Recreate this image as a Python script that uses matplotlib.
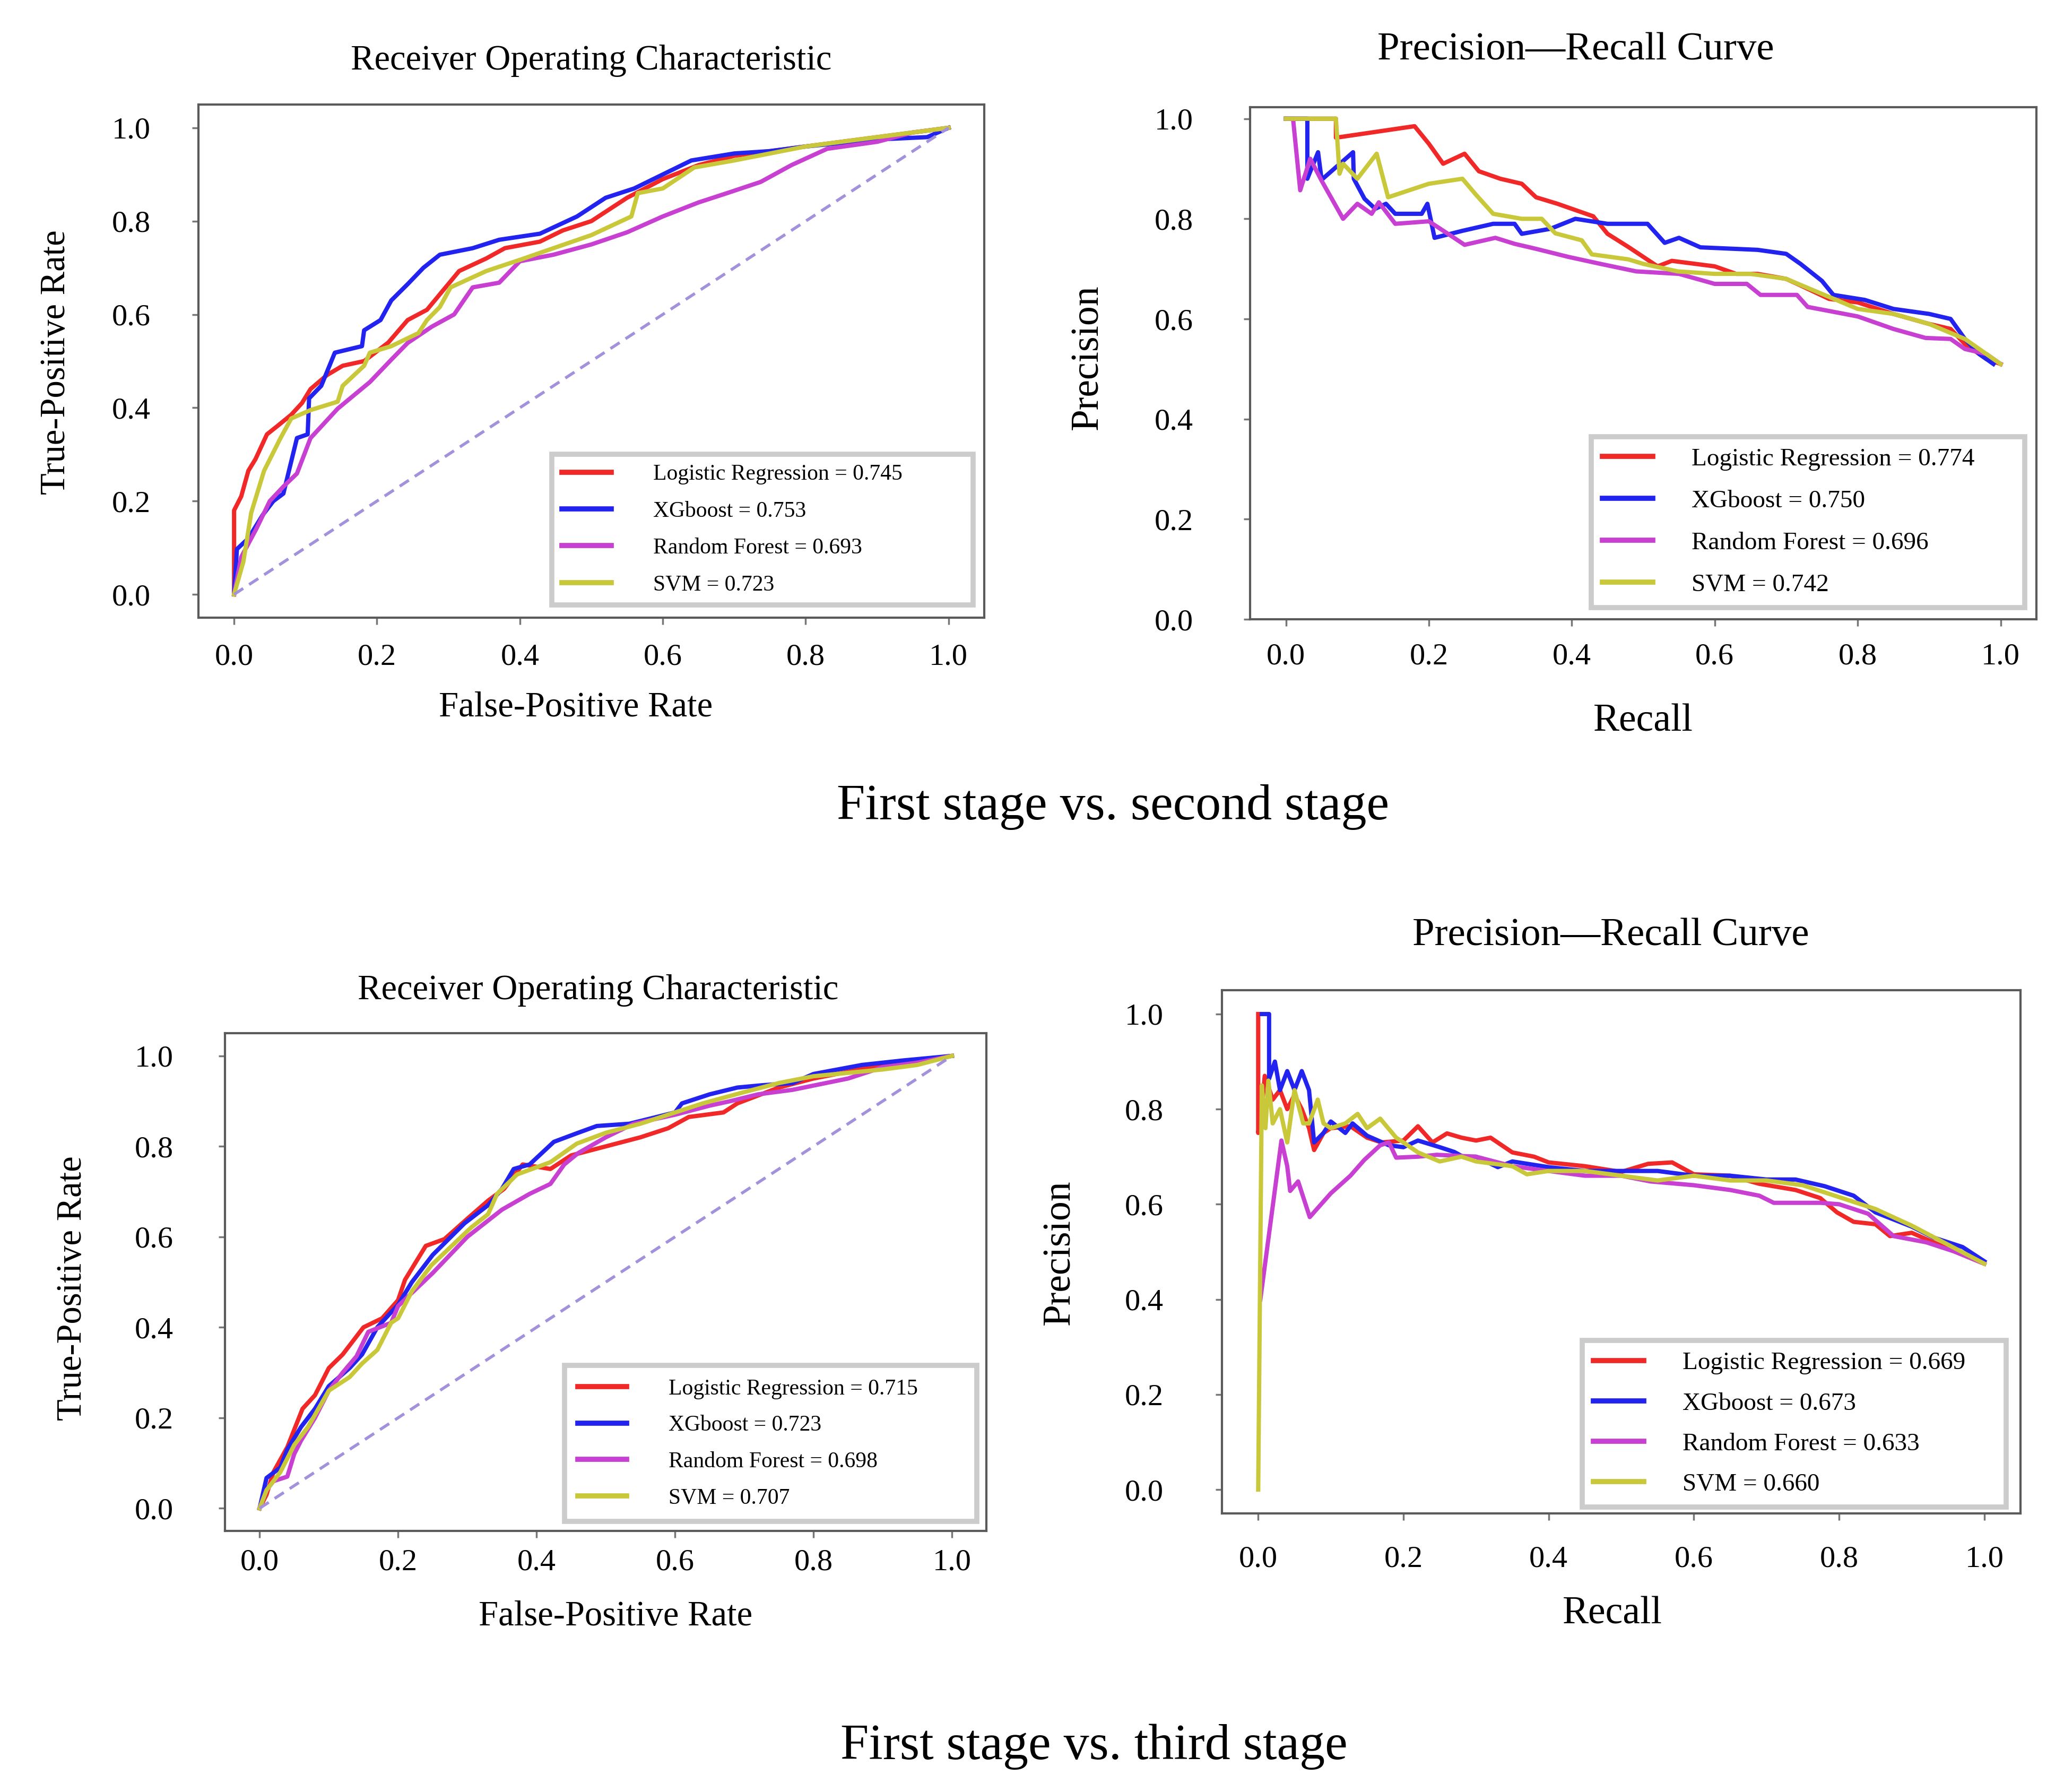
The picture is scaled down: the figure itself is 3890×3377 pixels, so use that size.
import matplotlib
matplotlib.use('Agg')
import matplotlib.pyplot as plt

plt.rcParams['font.family'] = ['Liberation Serif', 'DejaVu Serif']

# ---------------- data ----------------
tick_values = [0.0, 0.2, 0.4, 0.6, 0.8, 1.0]
tick_labels = ['0.0', '0.2', '0.4', '0.6', '0.8', '1.0']
model_names = ['Logistic Regression', 'XGboost', 'Random Forest', 'SVM']

# Stage 1 vs 2 : ROC
roc2_lr_fpr = [0, 0, 0.01, 0.02, 0.03, 0.046, 0.06, 0.08, 0.095, 0.107, 0.13, 0.152, 0.182, 0.216, 0.243, 0.27, 0.296, 0.315, 0.353, 0.379, 0.428, 0.46, 0.5, 0.55, 0.6, 0.65, 0.7, 0.8, 0.9, 1.0]
roc2_lr_tpr = [0, 0.18, 0.21, 0.265, 0.29, 0.343, 0.36, 0.385, 0.41, 0.44, 0.47, 0.49, 0.50, 0.54, 0.588, 0.61, 0.658, 0.693, 0.72, 0.742, 0.756, 0.78, 0.80, 0.85, 0.89, 0.92, 0.94, 0.96, 0.98, 1.0]
roc2_xgb_fpr = [0, 0.004, 0.02, 0.04, 0.055, 0.069, 0.088, 0.103, 0.105, 0.122, 0.141, 0.179, 0.182, 0.205, 0.22, 0.243, 0.265, 0.288, 0.334, 0.371, 0.428, 0.48, 0.52, 0.56, 0.6, 0.64, 0.7, 0.75, 0.8, 0.9, 0.97, 1.0]
roc2_xgb_tpr = [0, 0.097, 0.12, 0.17, 0.2, 0.216, 0.335, 0.343, 0.42, 0.447, 0.518, 0.532, 0.566, 0.588, 0.63, 0.665, 0.70, 0.728, 0.742, 0.76, 0.773, 0.81, 0.85, 0.87, 0.9, 0.93, 0.945, 0.95, 0.96, 0.975, 0.98, 1.0]
roc2_rf_fpr = [0, 0.01, 0.031, 0.05, 0.069, 0.088, 0.107, 0.145, 0.19, 0.22, 0.243, 0.277, 0.308, 0.334, 0.371, 0.40, 0.447, 0.50, 0.55, 0.6, 0.65, 0.69, 0.737, 0.78, 0.83, 0.9, 0.95, 1.0]
roc2_rf_tpr = [0, 0.08, 0.14, 0.2, 0.231, 0.259, 0.335, 0.398, 0.455, 0.503, 0.539, 0.574, 0.60, 0.658, 0.668, 0.714, 0.728, 0.75, 0.776, 0.81, 0.84, 0.86, 0.884, 0.92, 0.955, 0.97, 0.99, 1.0]
roc2_svm_fpr = [0, 0.013, 0.024, 0.042, 0.065, 0.08, 0.107, 0.145, 0.152, 0.182, 0.19, 0.22, 0.258, 0.27, 0.288, 0.303, 0.353, 0.40, 0.447, 0.50, 0.556, 0.565, 0.6, 0.644, 0.7, 0.8, 0.9, 1.0]
roc2_svm_tpr = [0, 0.07, 0.175, 0.265, 0.335, 0.377, 0.395, 0.413, 0.447, 0.49, 0.518, 0.532, 0.56, 0.588, 0.616, 0.658, 0.693, 0.717, 0.742, 0.77, 0.81, 0.86, 0.87, 0.915, 0.93, 0.96, 0.98, 1.0]
roc2_auc = ['0.745', '0.753', '0.693', '0.723']

# Stage 1 vs 2 : PR
pr2_lr_rec = [0, 0.07, 0.07, 0.18, 0.2, 0.22, 0.25, 0.27, 0.30, 0.33, 0.35, 0.38, 0.40, 0.43, 0.45, 0.48, 0.50, 0.52, 0.54, 0.6, 0.63, 0.66, 0.7, 0.72, 0.76, 0.80, 0.85, 0.90, 0.93, 0.95, 0.98, 1.0]
pr2_lr_prec = [1.0, 1.0, 0.962, 0.985, 0.95, 0.91, 0.93, 0.895, 0.88, 0.87, 0.843, 0.83, 0.82, 0.805, 0.77, 0.743, 0.724, 0.705, 0.716, 0.705, 0.69, 0.69, 0.68, 0.667, 0.64, 0.633, 0.61, 0.59, 0.58, 0.55, 0.52, 0.51]
pr2_xgb_rec = [0, 0.03, 0.03, 0.045, 0.05, 0.094, 0.095, 0.11, 0.125, 0.14, 0.153, 0.19, 0.198, 0.208, 0.247, 0.29, 0.32, 0.33, 0.37, 0.405, 0.45, 0.506, 0.53, 0.55, 0.58, 0.66, 0.70, 0.72, 0.75, 0.766, 0.81, 0.85, 0.90, 0.93, 0.95, 0.97, 0.99]
pr2_xgb_prec = [1.0, 1.0, 0.88, 0.933, 0.878, 0.933, 0.88, 0.84, 0.82, 0.83, 0.81, 0.81, 0.83, 0.762, 0.776, 0.79, 0.79, 0.77, 0.78, 0.80, 0.79, 0.79, 0.752, 0.762, 0.743, 0.738, 0.73, 0.71, 0.676, 0.648, 0.638, 0.62, 0.61, 0.60, 0.56, 0.53, 0.51]
pr2_rf_rec = [0, 0.01, 0.02, 0.034, 0.05, 0.08, 0.10, 0.12, 0.13, 0.153, 0.2, 0.23, 0.25, 0.293, 0.32, 0.35, 0.395, 0.44, 0.49, 0.55, 0.6, 0.645, 0.664, 0.715, 0.73, 0.80, 0.85, 0.895, 0.93, 0.95, 0.98, 1.0]
pr2_rf_prec = [1.0, 1.0, 0.857, 0.92, 0.876, 0.80, 0.83, 0.81, 0.833, 0.79, 0.795, 0.767, 0.748, 0.762, 0.75, 0.74, 0.724, 0.71, 0.695, 0.69, 0.67, 0.67, 0.648, 0.648, 0.624, 0.605, 0.58, 0.562, 0.56, 0.54, 0.53, 0.51]
pr2_svm_rec = [0, 0.07, 0.075, 0.08, 0.10, 0.127, 0.143, 0.2, 0.247, 0.266, 0.29, 0.33, 0.358, 0.377, 0.414, 0.428, 0.479, 0.5, 0.548, 0.6, 0.65, 0.7, 0.75, 0.8, 0.85, 0.9, 0.95, 0.98, 1.0]
pr2_svm_prec = [1.0, 1.0, 0.89, 0.91, 0.88, 0.93, 0.843, 0.87, 0.88, 0.848, 0.81, 0.80, 0.80, 0.771, 0.757, 0.729, 0.719, 0.71, 0.695, 0.69, 0.69, 0.68, 0.65, 0.62, 0.61, 0.59, 0.56, 0.53, 0.51]
pr2_auc = ['0.774', '0.750', '0.696', '0.742']

# Stage 1 vs 3 : ROC
roc3_lr_fpr = [0, 0.01, 0.02, 0.04, 0.062, 0.08, 0.10, 0.12, 0.15, 0.177, 0.2, 0.21, 0.24, 0.267, 0.30, 0.33, 0.353, 0.38, 0.42, 0.45, 0.5, 0.55, 0.59, 0.62, 0.67, 0.69, 0.75, 0.8, 0.9, 1.0]
roc3_lr_tpr = [0, 0.03, 0.08, 0.135, 0.22, 0.25, 0.31, 0.34, 0.40, 0.42, 0.46, 0.505, 0.58, 0.595, 0.64, 0.68, 0.706, 0.76, 0.75, 0.78, 0.80, 0.82, 0.84, 0.865, 0.875, 0.895, 0.93, 0.95, 0.98, 1.0]
roc3_xgb_fpr = [0, 0.01, 0.03, 0.04, 0.06, 0.08, 0.10, 0.13, 0.148, 0.17, 0.2, 0.22, 0.25, 0.296, 0.33, 0.35, 0.367, 0.39, 0.425, 0.46, 0.487, 0.534, 0.6, 0.61, 0.65, 0.69, 0.725, 0.77, 0.8, 0.87, 0.93, 1.0]
roc3_xgb_tpr = [0, 0.067, 0.09, 0.13, 0.18, 0.22, 0.27, 0.31, 0.34, 0.40, 0.45, 0.50, 0.56, 0.63, 0.67, 0.706, 0.75, 0.76, 0.81, 0.83, 0.845, 0.85, 0.875, 0.895, 0.915, 0.93, 0.935, 0.94, 0.96, 0.98, 0.99, 1.0]
roc3_rf_fpr = [0, 0.01, 0.02, 0.04, 0.05, 0.06, 0.08, 0.10, 0.12, 0.14, 0.157, 0.19, 0.2, 0.25, 0.3, 0.35, 0.39, 0.42, 0.44, 0.46, 0.5, 0.54, 0.6, 0.65, 0.68, 0.72, 0.77, 0.85, 0.9, 0.95, 1.0]
roc3_rf_tpr = [0, 0.04, 0.06, 0.07, 0.12, 0.15, 0.2, 0.26, 0.30, 0.336, 0.39, 0.41, 0.447, 0.52, 0.6, 0.66, 0.695, 0.717, 0.76, 0.785, 0.82, 0.85, 0.87, 0.89, 0.9, 0.915, 0.925, 0.95, 0.975, 0.985, 1.0]
roc3_svm_fpr = [0, 0.01, 0.03, 0.05, 0.07, 0.10, 0.13, 0.148, 0.17, 0.19, 0.2, 0.22, 0.248, 0.305, 0.33, 0.343, 0.372, 0.42, 0.458, 0.5, 0.55, 0.6, 0.64, 0.7, 0.75, 0.8, 0.9, 0.95, 1.0]
roc3_svm_tpr = [0, 0.04, 0.08, 0.14, 0.18, 0.26, 0.29, 0.32, 0.35, 0.41, 0.42, 0.48, 0.537, 0.62, 0.65, 0.695, 0.738, 0.765, 0.806, 0.83, 0.85, 0.875, 0.895, 0.92, 0.94, 0.955, 0.97, 0.98, 1.0]
roc3_auc = ['0.715', '0.723', '0.698', '0.707']

# Stage 1 vs 3 : PR
pr3_lr_rec = [0, 0, 0.005, 0.009, 0.02, 0.03, 0.04, 0.05, 0.06, 0.07, 0.077, 0.09, 0.1, 0.127, 0.15, 0.17, 0.2, 0.22, 0.24, 0.26, 0.28, 0.30, 0.32, 0.35, 0.38, 0.4, 0.45, 0.5, 0.537, 0.57, 0.6, 0.65, 0.69, 0.74, 0.774, 0.797, 0.82, 0.85, 0.87, 0.9, 0.93, 0.96, 1.0]
pr3_lr_prec = [1.0, 0.75, 0.8, 0.87, 0.82, 0.84, 0.8, 0.83, 0.8, 0.76, 0.714, 0.75, 0.76, 0.764, 0.74, 0.73, 0.734, 0.764, 0.73, 0.749, 0.74, 0.734, 0.74, 0.709, 0.70, 0.688, 0.68, 0.668, 0.685, 0.688, 0.663, 0.66, 0.643, 0.63, 0.613, 0.583, 0.563, 0.558, 0.533, 0.54, 0.52, 0.50, 0.475]
pr3_xgb_rec = [0.005, 0.015, 0.015, 0.023, 0.03, 0.04, 0.05, 0.06, 0.07, 0.077, 0.09, 0.1, 0.12, 0.13, 0.15, 0.18, 0.2, 0.22, 0.25, 0.27, 0.282, 0.3, 0.33, 0.35, 0.4, 0.45, 0.5, 0.55, 0.6, 0.65, 0.7, 0.74, 0.78, 0.82, 0.85, 0.9, 0.93, 0.97, 1.0]
pr3_xgb_prec = [1.0, 1.0, 0.864, 0.9, 0.84, 0.88, 0.84, 0.88, 0.84, 0.73, 0.75, 0.774, 0.75, 0.77, 0.744, 0.724, 0.72, 0.734, 0.72, 0.71, 0.70, 0.70, 0.678, 0.69, 0.678, 0.67, 0.67, 0.67, 0.66, 0.66, 0.652, 0.652, 0.638, 0.618, 0.583, 0.553, 0.53, 0.51, 0.48]
pr3_rf_rec = [0.003, 0.032, 0.04, 0.044, 0.055, 0.071, 0.1, 0.127, 0.146, 0.168, 0.18, 0.19, 0.22, 0.246, 0.3, 0.35, 0.4, 0.45, 0.5, 0.54, 0.6, 0.65, 0.69, 0.71, 0.775, 0.8, 0.84, 0.875, 0.92, 0.96, 1.0]
pr3_rf_prec = [0.40, 0.734, 0.68, 0.628, 0.648, 0.573, 0.623, 0.66, 0.693, 0.724, 0.73, 0.698, 0.70, 0.704, 0.70, 0.68, 0.67, 0.66, 0.66, 0.648, 0.64, 0.63, 0.618, 0.603, 0.603, 0.60, 0.58, 0.533, 0.52, 0.50, 0.475]
pr3_svm_rec = [0, 0.005, 0.01, 0.014, 0.02, 0.03, 0.04, 0.05, 0.062, 0.07, 0.082, 0.09, 0.1, 0.12, 0.137, 0.15, 0.168, 0.19, 0.2, 0.22, 0.25, 0.28, 0.3, 0.35, 0.37, 0.4, 0.45, 0.5, 0.55, 0.6, 0.65, 0.7, 0.75, 0.8, 0.85, 0.9, 0.95, 1.0]
pr3_svm_prec = [0.0, 0.85, 0.76, 0.86, 0.77, 0.8, 0.73, 0.84, 0.77, 0.77, 0.82, 0.77, 0.76, 0.77, 0.79, 0.76, 0.78, 0.74, 0.73, 0.709, 0.69, 0.70, 0.69, 0.68, 0.663, 0.67, 0.67, 0.66, 0.65, 0.66, 0.65, 0.65, 0.64, 0.615, 0.59, 0.555, 0.515, 0.475]
pr3_auc = ['0.669', '0.673', '0.633', '0.660']

chance_line = [0.0, 1.0]

# ---------------- styling ----------------
W, H, DPI = 3890, 3377, 100
fig = plt.figure(figsize=(W / DPI, H / DPI), dpi=DPI)
fig.patch.set_facecolor('white')

colors = ['#f02828', '#2323f0', '#c840d2', '#c8c83a']
DIAG = '#a391dc'
LW = 5.8


def style(ax, ylim, xpad, ypad):
    ax.set_xlim(-0.05, 1.05)
    ax.set_ylim(*ylim)
    ax.set_xticks(tick_values)
    ax.set_xticklabels(tick_labels)
    ax.set_yticks(tick_values)
    ax.set_yticklabels(tick_labels)
    for sp in ax.spines.values():
        sp.set_color('#5a5a5a')
        sp.set_linewidth(3)
    ax.tick_params(direction='out', length=9, width=2.5, color='#777777', labelsize=42)
    ax.tick_params(axis='x', pad=xpad)
    ax.tick_params(axis='y', pad=ypad)


def add_legend(ax, bbox, fs, hl, htp, ls, bp=0.45):
    leg = ax.legend(loc='lower left', bbox_to_anchor=bbox, mode='expand', fontsize=fs,
                    handlelength=hl, handletextpad=htp, labelspacing=ls, borderpad=bp,
                    borderaxespad=0.0, frameon=True, fancybox=False,
                    edgecolor='#cccccc', framealpha=1)
    leg.get_frame().set_linewidth(7)
    for ln in leg.get_lines():
        ln.set_linewidth(7)


def put_title(ax, text, xf, yf, fs):
    ax.text(xf, yf, text, transform=ax.transAxes, ha='center', va='center', fontsize=fs)


def put_labels(ax, xl, yl, xc, yc, fs):
    ax.set_xlabel(xl, fontsize=fs)
    ax.set_ylabel(yl, fontsize=fs)
    ax.xaxis.set_label_coords(*xc)
    ax.yaxis.set_label_coords(*yc)
    ax.xaxis.label.set_va('center')
    ax.yaxis.label.set_va('center')


def draw_chance(ax):
    ax.plot(chance_line, chance_line, linestyle=(0, (3.7, 2.4)), color=DIAG, lw=4)


# ---------- top-left ROC ----------
ax1 = fig.add_axes([0.0961, 0.6553, 0.3808, 0.2864])
curves = [(roc2_lr_fpr, roc2_lr_tpr), (roc2_xgb_fpr, roc2_xgb_tpr),
          (roc2_rf_fpr, roc2_rf_tpr), (roc2_svm_fpr, roc2_svm_tpr)]
for (x, y), c, n, a in zip(curves, colors, model_names, roc2_auc):
    ax1.plot(x, y, color=c, lw=LW, label=f'{n} = {a}')
draw_chance(ax1)
style(ax1, (-0.05, 1.05), 26, 56)
add_legend(ax1, (0.450, 0.0248, 0.536, 0.297), 30, 2.23, 1.9, 0.74)
put_title(ax1, 'Receiver Operating Characteristic', 0.5, 1.085, 48)
put_labels(ax1, 'False-Positive Rate', 'True-Positive Rate', (0.48, -0.175), (-0.181, 0.498), 48)

# ---------- top-right PR ----------
ax2 = fig.add_axes([0.6057, 0.6544, 0.3809, 0.2858])
curves = [(pr2_lr_rec, pr2_lr_prec), (pr2_xgb_rec, pr2_xgb_prec),
          (pr2_rf_rec, pr2_rf_prec), (pr2_svm_rec, pr2_svm_prec)]
for (x, y), c, n, a in zip(curves, colors, model_names, pr2_auc):
    ax2.plot(x, y, color=c, lw=LW, label=f'{n} = {a}')
style(ax2, (0.0, 1.023), 23, 68)
add_legend(ax2, (0.434, 0.0228, 0.551, 0.34), 34, 2.0, 1.55, 0.76)
put_title(ax2, 'Precision\u2014Recall Curve', 0.414, 1.112, 54)
put_labels(ax2, 'Recall', 'Precision', (0.50, -0.20), (-0.206, 0.512), 53)

# ---------- bottom-left ROC ----------
ax3 = fig.add_axes([0.1090, 0.1457, 0.3690, 0.2777])
curves = [(roc3_lr_fpr, roc3_lr_tpr), (roc3_xgb_fpr, roc3_xgb_tpr),
          (roc3_rf_fpr, roc3_rf_tpr), (roc3_svm_fpr, roc3_svm_tpr)]
for (x, y), c, n, a in zip(curves, colors, model_names, roc3_auc):
    ax3.plot(x, y, color=c, lw=LW, label=f'{n} = {a}')
draw_chance(ax3)
style(ax3, (-0.05, 1.05), 15, 61)
add_legend(ax3, (0.446, 0.019, 0.541, 0.33), 30, 2.2, 1.9, 0.72, 0.6)
put_title(ax3, 'Receiver Operating Characteristic', 0.49, 1.086, 48)
put_labels(ax3, 'False-Positive Rate', 'True-Positive Rate', (0.513, -0.172), (-0.20, 0.488), 48)

# ---------- bottom-right PR ----------
ax4 = fig.add_axes([0.5920, 0.1555, 0.3870, 0.2919])
curves = [(pr3_lr_rec, pr3_lr_prec), (pr3_xgb_rec, pr3_xgb_prec),
          (pr3_rf_rec, pr3_rf_prec), (pr3_svm_rec, pr3_svm_prec)]
for (x, y), c, n, a in zip(curves, colors, model_names, pr3_auc):
    ax4.plot(x, y, color=c, lw=LW, label=f'{n} = {a}')
style(ax4, (-0.05, 1.05), 35, 70)
add_legend(ax4, (0.451, 0.012, 0.531, 0.328), 34, 2.0, 1.55, 0.70)
put_title(ax4, 'Precision\u2014Recall Curve', 0.487, 1.104, 54)
put_labels(ax4, 'Recall', 'Precision', (0.489, -0.193), (-0.203, 0.499), 53)

# ---------- captions ----------
fig.text(2098 / W, 1 - 1521 / H, 'First stage vs. second stage', ha='center', va='center', fontsize=69)
fig.text(2062 / W, 1 - 3292 / H, 'First stage vs. third stage', ha='center', va='center', fontsize=69)

fig.savefig('out.png', dpi=DPI, facecolor='white')
